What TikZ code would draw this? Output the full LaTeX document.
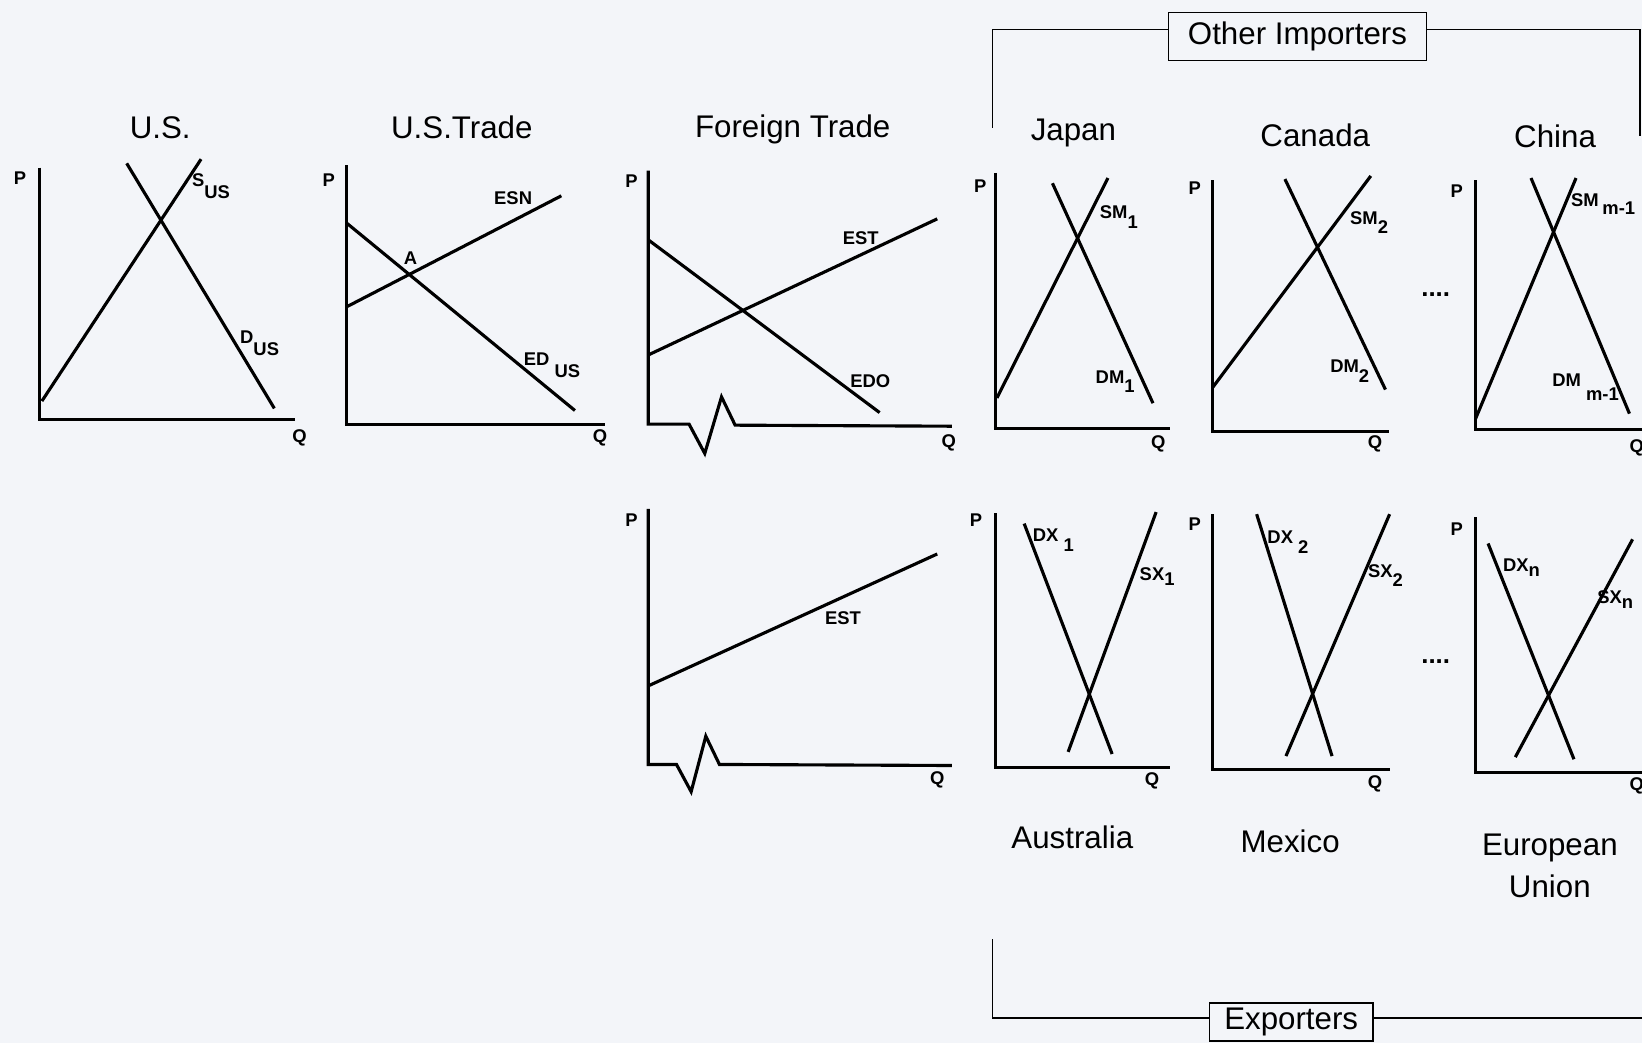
\documentclass[tikz,border=0pt]{standalone}
\usepackage{fontspec}
\setmainfont{Liberation Sans}
\definecolor{paper}{RGB}{243,245,249}
\newcommand{\lsub}[2][1ex]{\raisebox{-#1}{#2}}

\tikzset{
	axis/.style={line width=1.7pt, line join=miter},
	curve/.style={line width=1.7pt},
	ttl/.style={font=\fontsize{17}{23}\selectfont, inner sep=0pt},
	lbl/.style={font=\bfseries\fontsize{10}{12}\selectfont, inner sep=0pt},
	dotsl/.style={font=\bfseries\fontsize{14}{16}\selectfont, inner sep=0pt},
	grpbox/.style={draw, line width=0.8pt, fill=paper, font=\fontsize{17}{20}\selectfont, inner sep=0pt},
	bracket/.style={line width=0.8pt},
}

\begin{document}
\begin{tikzpicture}[x=0.2mm, y=-0.2mm]
\fill[paper] (0,0) rectangle (1568,996);
\useasboundingbox (0,0) rectangle (1568,996);

% U.S.
\node[ttl] (tus) at (153,122) {U.S.};
\draw[axis] (38,160) -- (38,401) -- (282,401);
\node[lbl] (pus) at (19,170) {P};
\node[lbl] (qus) at (286,418) {Q};
\draw[curve] (40,383) -- (192,152);
\draw[curve] (121,156) -- (262,390);
\node[lbl, anchor=base west] (sus) at (183,178) {S\lsub[1.2ex]{US}};
\node[lbl, anchor=base west] (dus) at (229,328) {D\lsub[1.2ex]{US}};

% U.S. trade
\node[ttl] (tust) at (441,122) {U.S.Trade};
\draw[axis] (331,158) -- (331,405) -- (578,405);
\node[lbl] (pust) at (314,172) {P};
\node[lbl] (qust) at (573,418) {Q};
\draw[curve] (331,213) -- (549,392);
\draw[curve] (331,293) -- (536,187);
\node[lbl] (a) at (392,247) {A};
\node[lbl] (esn) at (490,189) {ESN};
\node[lbl, anchor=base west] (edus) at (500,349) {ED\lsub[1.2ex]{ US}};

% foreign trade, top
\node[ttl] (tft) at (757,124) {Foreign Trade};
\draw[axis] (619,163) -- (619,405) -- (658,405) -- (673,433) -- (689,379) -- (702,406) -- (909,407);
\node[lbl] (pft) at (603,173) {P};
\node[lbl] (qft) at (906,423) {Q};
\draw[curve] (619,229) -- (840,394);
\draw[curve] (619,339) -- (895,209);
\node[lbl] (est) at (822,227) {EST};
\node[lbl] (edo) at (831,364) {EDO};

% foreign trade, bottom
\draw[axis] (619,486) -- (619,730) -- (646,730) -- (660,756) -- (674,703) -- (687,730) -- (909,731);
\node[lbl] (pfb) at (603,497) {P};
\node[lbl] (qfb) at (895,745) {Q};
\draw[curve] (619,655) -- (895,529);
\node[lbl] (estb) at (805,590) {EST};

% importers
\node[ttl] (tjp) at (1025,127) {Japan};
\draw[axis] (951,165) -- (951,409) -- (1117,409);
\node[lbl] (pjp) at (936,178) {P};
\node[lbl] (qjp) at (1106,424) {Q};
\draw[curve] (952,380) -- (1058,170);
\draw[curve] (1005,175) -- (1101,385);
\node[lbl, anchor=base west] (smjp) at (1050,209) {SM\lsub{1}};
\node[lbl, anchor=base west] (dmjp) at (1046,366) {DM\lsub{1}};

\node[ttl] (tca) at (1256,129) {Canada};
\draw[axis] (1158,172) -- (1158,412) -- (1326,412);
\node[lbl] (pca) at (1141,180) {P};
\node[lbl] (qca) at (1313,424) {Q};
\draw[curve] (1158,370) -- (1309,168);
\draw[curve] (1227,171) -- (1323,372);
\node[lbl, anchor=base west] (smca) at (1289,214) {SM\lsub{2}};
\node[lbl, anchor=base west] (dmca) at (1270,356) {DM\lsub{2}};

\node[dotsl] (dotsm) at (1371,281) {....};

\node[ttl] (tcn) at (1485,130) {China};
\draw[axis] (1409,172) -- (1409,410) -- (1568,410);
\node[lbl] (pcn) at (1391,183) {P};
\node[lbl] (qcn) at (1563,428) {Q};
\draw[curve] (1409,400) -- (1505,170);
\draw[curve] (1462,170) -- (1556,395);
\node[lbl, anchor=base west] (smcn) at (1500,197) {SM\hspace{2pt}\lsub[0.85ex]{m-1}};
\node[lbl, anchor=base west] (dmcn) at (1482,369) {DM \lsub[1.4ex]{m-1}};

% exporters
\draw[axis] (951,490) -- (951,733) -- (1117,733);
\node[lbl] (pau) at (932,497) {P};
\node[lbl] (qau) at (1100,746) {Q};
\draw[curve] (978,500) -- (1062,720);
\draw[curve] (1020,718) -- (1104,489);
\node[lbl, anchor=base west] (dxau) at (986,517) {DX\lsub{ 1}};
\node[lbl, anchor=base west] (sxau) at (1088,554) {SX\lsub[0.5ex]{1}};
\node[ttl] (tau) at (1024,800) {Australia};

\draw[axis] (1158,491) -- (1158,735) -- (1327,735);
\node[lbl] (pmx) at (1141,501) {P};
\node[lbl] (qmx) at (1313,749) {Q};
\draw[curve] (1200,491) -- (1272,722);
\draw[curve] (1228,722) -- (1327,491);
\node[lbl, anchor=base west] (dxmx) at (1210,519) {DX\lsub{ 2}};
\node[lbl, anchor=base west] (sxmx) at (1306,551) {SX\lsub{2}};
\node[ttl] (tmx) at (1232,803) {Mexico};

\node[dotsl] (dotsx) at (1371,632) {....};

\draw[axis] (1409,494) -- (1409,738) -- (1568,738);
\node[lbl] (peu) at (1391,505) {P};
\node[lbl] (qeu) at (1563,750) {Q};
\draw[curve] (1421,519) -- (1503,725);
\draw[curve] (1447,723) -- (1559,515);
\node[lbl, anchor=base west] (dxeu) at (1435,546) {DX\lsub[0.5ex]{n}};
\node[lbl, anchor=base west] (sxeu) at (1525,576) {SX\lsub[0.5ex]{n}};
\node[ttl, align=center] (teu) at (1480,827) {European\\Union};

% group brackets
\node[grpbox, minimum width=4.92cm, minimum height=0.92cm] (oimp) at (1239,35) {Other Importers};
\draw[bracket] (948,122) |- ([yshift=1.4mm]oimp.west);
\draw[bracket] ([yshift=1.4mm]oimp.east) -| (1566,130);
\node[grpbox, minimum width=3.12cm, minimum height=0.72cm] (expo) at (1233,976) {Exporters};
\draw[bracket] (948,897) |- ([yshift=0.8mm]expo.west);
\draw[bracket] ([yshift=0.8mm]expo.east) -- ++(257,0);

\end{tikzpicture}
\end{document}
